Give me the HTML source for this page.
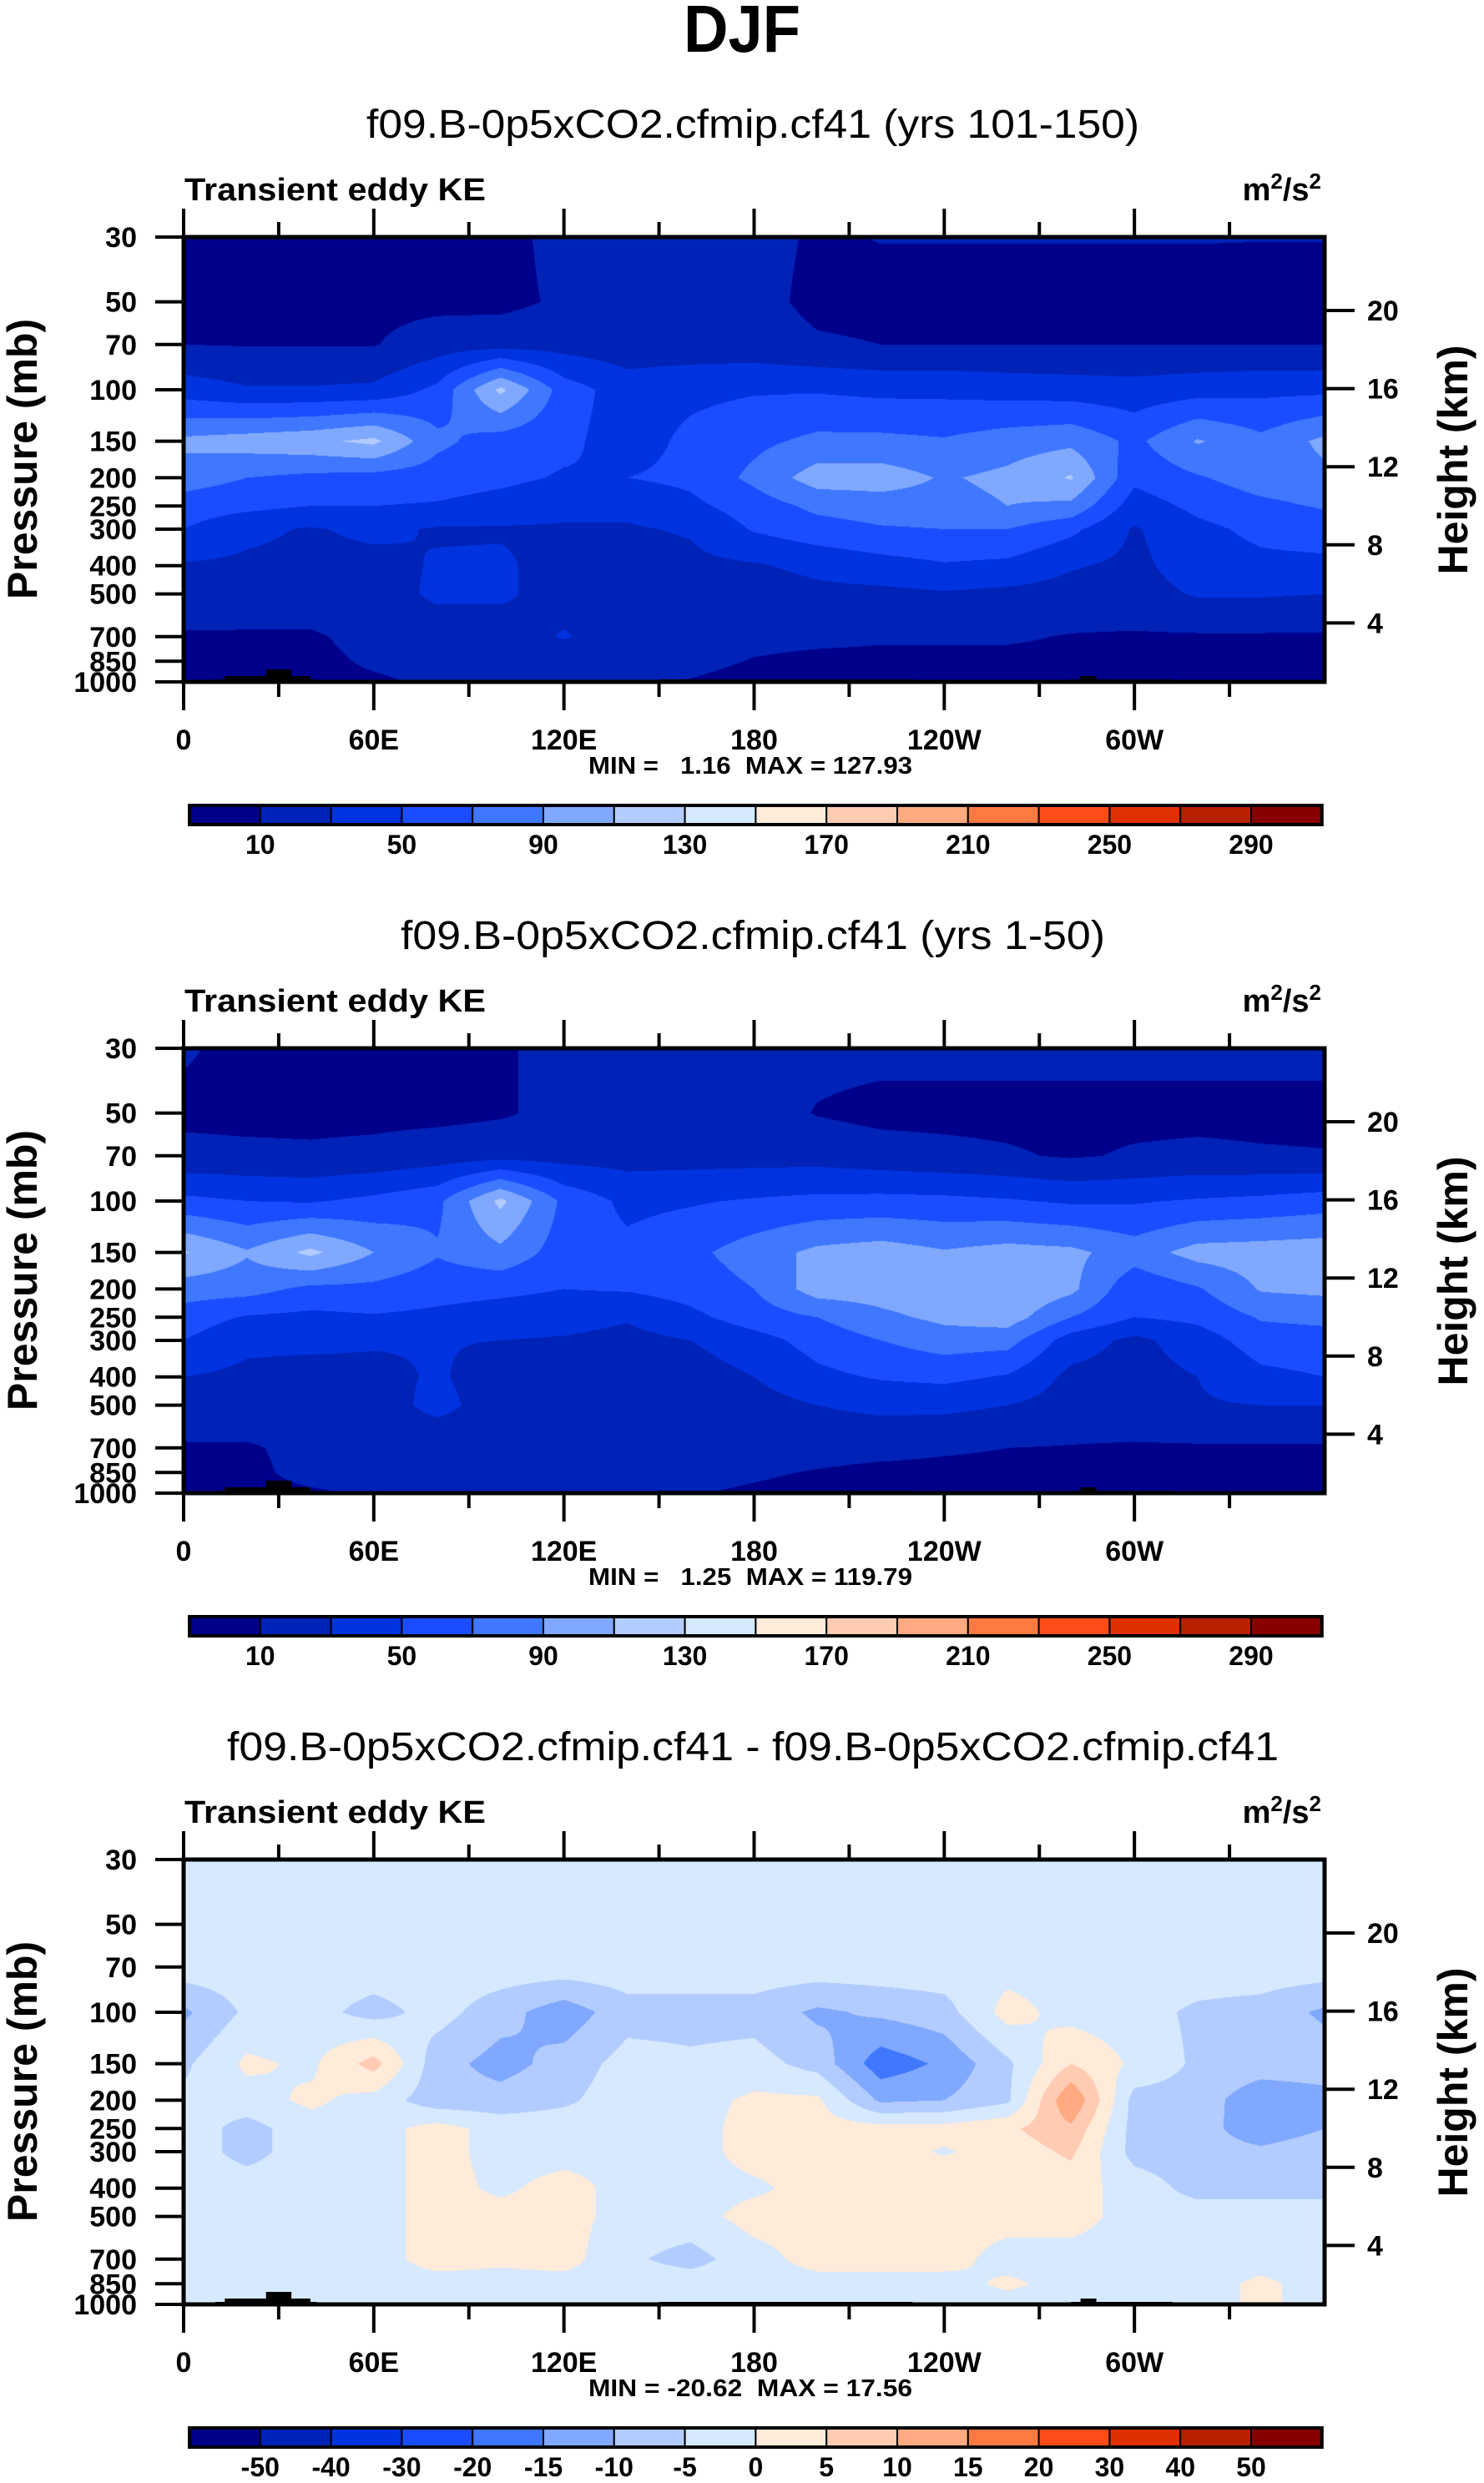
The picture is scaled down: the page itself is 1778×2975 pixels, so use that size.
<!DOCTYPE html>
<html><head><meta charset="utf-8">
<style>
html,body{margin:0;padding:0;background:#fff;}
#root{position:relative;width:1778px;height:2975px;overflow:hidden;background:#fff;}
canvas{position:absolute;}
svg{position:absolute;left:0;top:0;}
text{font-family:"Liberation Sans",Arial,sans-serif;}
.pre{white-space:pre;}
</style></head>
<body>
<div id="root">
<canvas id="c0" width="1367" height="533" style="left:220px;top:284px"></canvas>
<canvas id="c1" width="1367" height="533" style="left:220px;top:1256px"></canvas>
<canvas id="c2" width="1367" height="533" style="left:220px;top:2228px"></canvas>
<svg id="ov" width="1778" height="2975" xmlns="http://www.w3.org/2000/svg">
<text x="889" y="62" text-anchor="middle" font-size="80" font-weight="bold" textLength="140" lengthAdjust="spacingAndGlyphs">DJF</text>
</svg>
</div>
<script>
// ---- data ----
const lons = [0,20,40,60,80,100,120,140,160,180,200,220,240,260,280,300,320,340,360];
const levels = [30,50,70,100,150,200,250,300,400,500,700,850,1000];
const pressureTicks = [30,50,70,100,150,200,250,300,400,500,700,850,1000];
const heightTicks = [20,16,12,8,4];
const lonTickLabels = ["0","60E","120E","180","120W","60W"];
const keLevels = [10,30,50,70,90,110,130,150,170,190,210,230,250,270,290];
const keLabels = ["10","50","90","130","170","210","250","290"];
const diffLevels = [-50,-40,-30,-20,-15,-10,-5,0,5,10,15,20,30,40,50];
const diffLabels = ["-50","-40","-30","-20","-15","-10","-5","0","5","10","15","20","30","40","50"];
const colors = ['#00008a','#0022b6','#0033e0','#1a4dff','#3f77ff','#80a8ff','#b3ccff','#d6e9ff','#ffebd9','#ffccb3','#ffaa80','#ff7a40','#ff4d1a','#e03000','#b82000','#880000'];

const panel1Values = [
 [5,5,5,5,5,5,15,15,15,15,8,10.6,10.6,10.6,10.6,10.6,10.6,10.4,10.4],
 [5,5,5,5,5,5,13,16,16,15,6,5,5,5,5,5,5,5,5],
 [10,9,9,9,20,22,22,18,18,18,12,10,10,10,10,10,10,10,10],
 [40,32,32,34,55,115,60,40,45,48,48,45,45,42,40,38,42,45,45],
 [95,100,105,115,75,60,55,40,55,65,75,75,72,80,85,65,92,75,95],
 [80,70,65,62,60,55,48,50,55,75,100,100,88,95,112,55,68,80,85],
 [60,55,50,50,48,42,35,35,45,60,75,80,82,90,85,40,55,65,72],
 [50,35,28,35,28,28,28,28,32,52,62,68,70,70,55,28,45,55,60],
 [28,26,24,23,32,33,22,22,25,28,35,42,48,45,32,25,40,45,45],
 [22,20,20,20,34,34,20,20,20,20,25,25,28,25,22,22,32,32,30],
 [8,8,8,15,18,18,32,18,18,15,14,12,12,12,9,8,8,8,8],
 [6,6,6,12,15,15,15,15,15,9,6,6,6,6,6,6,6,6,6],
 [4,6,6,8,12,12,12,12,9,4,4,4,4,4,4,4,4,4,4]
];
const panel2Values = [
 [12,5,5,5,5,8,15,15,15,15,15,15,15,15,15,15,15,15,15],
 [6,5,5,5,5,8,15,18,18,18,9,5,5,5,5,5,5,5,5],
 [15,14,13,15,20,22,22,22,22,22,22,18,15,12,8,12,14,12,11],
 [55,50,48,55,65,115,65,45,48,52,55,56,55,52,47,48,52,55,60],
 [112,92,115,90,72,85,60,55,65,80,95,100,92,98,95,80,98,100,102],
 [80,78,65,65,58,55,50,52,58,70,100,100,105,108,95,55,68,92,95],
 [60,48,45,48,45,40,38,32,45,60,70,85,95,100,70,50,55,72,75],
 [50,35,35,32,31,30,28,24,30,42,58,70,80,78,40,25,40,60,62],
 [30,25,22,25,32,22,20,18,20,30,45,52,55,48,25,22,30,45,50],
 [24,22,22,22,35,22,20,18,18,22,30,35,35,30,22,22,28,30,30],
 [8,8,15,18,18,20,28,18,18,18,16,15,12,10,9,8,8,8,8],
 [6,6,15,16,16,16,16,16,14,12,9,6,6,6,6,6,6,6,6],
 [4,5,8,12,13,13,13,13,11,8,5,5,5,5,5,5,5,5,5]
];
const panel3Values = [
 [-2,-2,-2,-2,-2,-2,-2,-2,-2,-2,-2,-2,-2,-2,-2,-2,-2,-2,-2],
 [-2,-2,-2,-2,-2,-2,-2,-2,-2,-2,-2,-2,-2,-2,-2,-2,-2,-2,-2],
 [-2,-2,-2,-2,-2,-2,-2,-2,-2,-2,-2,-2,-2,-2,-2,-2,-2,-2,-2],
 [-11,-4,-3,-7,-3,-8,-13,-7,-7,-7,-11,-9,-7,2,-2,-3,-6,-7,-11],
 [-6,1,-1,7,-8,-12,-8,-3,-4,-3,-7,-18,-14,-6,5,-1,-6,-7,-7],
 [-4,-2,1,-2,-8,-8,-6,-2,-2,1,1,-11,-10,-6,15,-7,-7,-14,-12],
 [-2,-7,-2,-2,2,-2,-2,-2,-2,2,2,2,2,4,9,-7,-8,-13,-10],
 [-2,-7,-2,-2,2,-2,-2,-1,-2,2,2,2,-0.5,2,6,-7,-8,-9,-7],
 [-2,-2,-2,-2,2,-1,2,-2,-2,-1,2,2,4,2,2,-2,-7,-7,-7],
 [-2,-2,-2,-2,2,2,2,-2,-2,2,2,2,2,2,2,-2,-2,-2,-2],
 [-2,-2,-2,-2,2,1,2,-4,-7,-2,2,2,2,-2,-2,-2,-2,-2,-2],
 [-2,-2,-2,-2,-2,-2,-2,-2,-2,-2,-2,-2,-2,1,-2,-2,-2,1,-2],
 [-2,-2,-2,-2,-2,-2,-2,-2,-2,-2,-2,-2,-2,-2,-2,-2,-2,1,-2]
];
const subtitles = ["f09.B-0p5xCO2.cfmip.cf41 (yrs 101-150)","f09.B-0p5xCO2.cfmip.cf41 (yrs 1-50)","f09.B-0p5xCO2.cfmip.cf41 - f09.B-0p5xCO2.cfmip.cf41"];
const minMaxTexts = ["MIN =   1.16  MAX = 127.93","MIN =   1.25  MAX = 119.79","MIN = -20.62  MAX = 17.56"];

// ---- geometry ----
const PX=220, PW=1367, PH=533, PTOP=284, DY=972;
const lnTop=Math.log(30), lnBot=Math.log(1000);
function xOfLon(l){return PX+l/360*PW;}
function yOfP(p,top){return top+(Math.log(p)-lnTop)/(lnBot-lnTop)*PH;}
function yOfZ(z,top){return top+88+(20-z)*23.4;}

function classify(v,lv){let k=0;while(k<lv.length&&v>=lv[k])k++;return k;}
function hex(c){return [parseInt(c.substr(1,2),16),parseInt(c.substr(3,2),16),parseInt(c.substr(5,2),16)];}
const rgb=colors.map(hex);
const lnLev=levels.map(Math.log);

function drawField(id,vals,lv){
  const cv=document.getElementById(id),ctx=cv.getContext('2d');
  const img=ctx.createImageData(PW,PH),d=img.data;
  for(let y=0;y<PH;y++){
    const lp=lnTop+(y+0.5)/PH*(lnBot-lnTop);
    let j=0;while(j<levels.length-2&&lp>lnLev[j+1])j++;
    const ty=Math.min(1,Math.max(0,(lp-lnLev[j])/(lnLev[j+1]-lnLev[j])));
    for(let x=0;x<PW;x++){
      const lon=(x+0.5)/PW*360;
      let i=0;while(i<lons.length-2&&lon>lons[i+1])i++;
      const tx=(lon-lons[i])/(lons[i+1]-lons[i]);
      const v=(vals[j][i]*(1-tx)+vals[j][i+1]*tx)*(1-ty)+(vals[j+1][i]*(1-tx)+vals[j+1][i+1]*tx)*ty;
      const c=rgb[classify(v,lv)],o=(y*PW+x)*4;
      d[o]=c[0];d[o+1]=c[1];d[o+2]=c[2];d[o+3]=255;
    }
  }
  ctx.putImageData(img,0,0);
}
drawField('c0',panel1Values,keLevels);
drawField('c1',panel2Values,keLevels);
drawField('c2',panel3Values,diffLevels);

const NS='http://www.w3.org/2000/svg', svg=document.getElementById('ov');
function el(tag,attrs,parent){const e=document.createElementNS(NS,tag);for(const k in attrs)e.setAttribute(k,attrs[k]);(parent||svg).appendChild(e);return e;}

for(let pi=0;pi<3;pi++){
  const top=PTOP+pi*DY, bot=top+PH;
  const g=el('g',{});
  
  
  const topo=[[10,42,3],[13,40,7],[26,34,15],[150,230,3],[280,312,3],[283,288,7]];
  topo.forEach(t=>{const r=el('rect',{x:xOfLon(t[0]),y:bot-t[2],width:xOfLon(t[1])-xOfLon(t[0]),height:t[2],fill:'#000'},g);
    
    });
  const st=el('text',{x:902,y:top-119,'text-anchor':'middle','font-size':48},g);
  
  
  st.textContent=subtitles[pi];
  const sw=[926,844,1260][pi];
  st.setAttribute('textLength',sw);st.setAttribute('lengthAdjust','spacingAndGlyphs');
  const lt=el('text',{x:221,y:top-44,'font-size':38,'font-weight':'bold',textLength:361,lengthAdjust:'spacingAndGlyphs'},g);
  
  
  lt.textContent='Transient eddy KE';
  const ut=el('text',{x:1583,y:top-44,'text-anchor':'end','font-size':38,'font-weight':'bold'},g);
  
  
  ut.innerHTML='m<tspan dy="-14" font-size="26">2</tspan><tspan dy="14">/s</tspan><tspan dy="-14" font-size="26">2</tspan>';
  const fr=el('rect',{x:PX,y:top,width:PW,height:PH,fill:'none',stroke:'#000','stroke-width':5},g);
  
  
  for(let l=0;l<=330;l+=30){
    const x=xOfLon(l),len=(l%60===0)?34:18;
    el('line',{x1:x,y1:bot,x2:x,y2:bot+len,stroke:'#000','stroke-width':4},g);
    el('line',{x1:x,y1:top,x2:x,y2:top-len,stroke:'#000','stroke-width':4},g);
  }
  lonTickLabels.forEach((s,k)=>{
    const t=el('text',{x:xOfLon(k*60),y:bot+81,'text-anchor':'middle','font-size':34,'font-weight':'bold'},g);
    
    
    t.textContent=s;
  });
  pressureTicks.forEach(p=>{
    const y=yOfP(p,top);
    el('line',{x1:PX,y1:y,x2:PX-34,y2:y,stroke:'#000','stroke-width':4},g);
    const t=el('text',{x:164,y:y+12,'text-anchor':'end','font-size':34,'font-weight':'bold'},g);
    
    
    t.textContent=p;
  });
  heightTicks.forEach(z=>{
    const y=yOfZ(z,top);
    el('line',{x1:PX+PW,y1:y,x2:PX+PW+36,y2:y,stroke:'#000','stroke-width':4},g);
    const t=el('text',{x:1638,y:y+12,'font-size':34,'font-weight':'bold'},g);
    
    
    t.textContent=z;
  });
  const yl=el('text',{x:0,y:0,'text-anchor':'middle','font-size':50,'font-weight':'bold',transform:'translate(44,'+(top+266)+') rotate(-90)'},g);
  
  
  yl.textContent='Pressure (mb)';
  const hl=el('text',{x:0,y:0,'text-anchor':'middle','font-size':50,'font-weight':'bold',transform:'translate(1758,'+(top+267)+') rotate(-90)'},g);
  
  
  hl.textContent='Height (km)';
  const mm=el('text',{x:899,y:bot+110,'text-anchor':'middle','font-size':29,'font-weight':'bold',class:'pre',textLength:388,lengthAdjust:'spacingAndGlyphs'},g);
  
  
  mm.textContent=minMaxTexts[pi];
  const cbTop=top+681, cbX=227, bw=84.8;
  const cb=el('g',{},g);
  
  
  colors.forEach((c,k)=>{
    const r=el('rect',{x:cbX+k*bw,y:cbTop,width:bw,height:23,fill:c,stroke:'#000','stroke-width':2},cb);
    
    
  });
  el('rect',{x:cbX,y:cbTop,width:bw*16,height:23,fill:'none',stroke:'#000','stroke-width':4},cb);
  if(pi<2){
    keLabels.forEach((s,k)=>{
      const t=el('text',{x:cbX+(1+2*k)*bw,y:cbTop+58,'text-anchor':'middle','font-size':32,'font-weight':'bold'},cb);
      
      
      t.textContent=s;
    });
  } else {
    diffLabels.forEach((s,k)=>{
      const t=el('text',{x:cbX+(1+k)*bw,y:cbTop+58,'text-anchor':'middle','font-size':32,'font-weight':'bold'},cb);
      
      
      t.textContent=s;
    });
  }
}
</script>
</body></html>
